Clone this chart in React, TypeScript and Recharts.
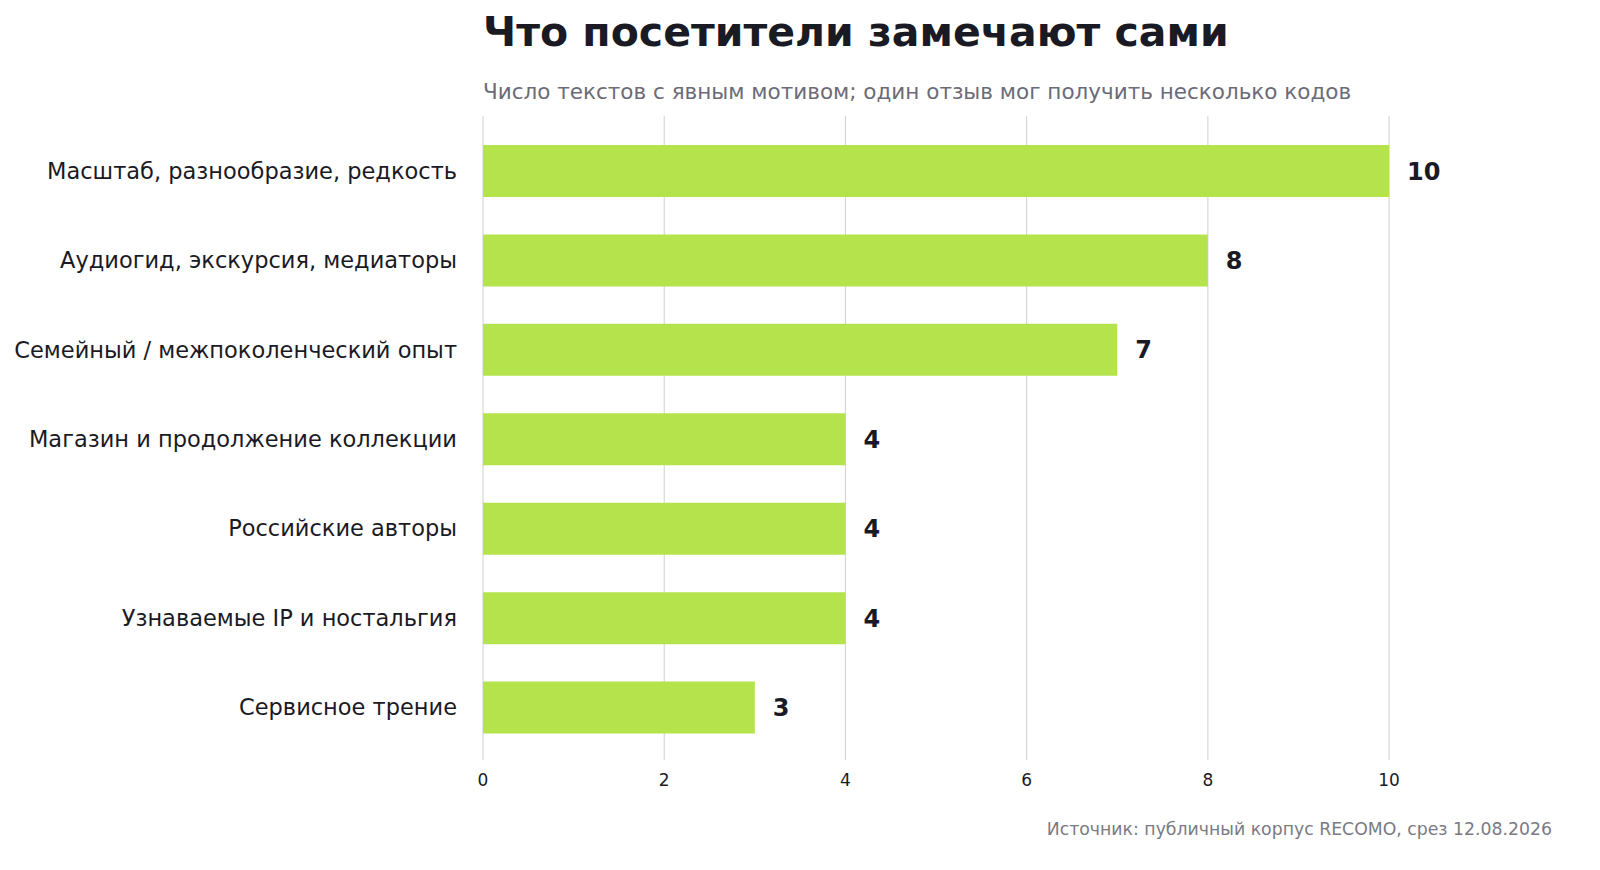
import { BarChart, Bar, XAxis, YAxis, CartesianGrid, LabelList } from 'recharts';

const categories = [
  'Масштаб, разнообразие, редкость',
  'Аудиогид, экскурсия, медиаторы',
  'Семейный / межпоколенческий опыт',
  'Магазин и продолжение коллекции',
  'Российские авторы',
  'Узнаваемые IP и ностальгия',
  'Сервисное трение',
];
const counts = [10, 8, 7, 4, 4, 4, 3];
const xTicks = [0, 2, 4, 6, 8, 10];

const data = categories.map((name, i) => ({ name, value: counts[i] }));
const font = '"DejaVu Sans", sans-serif';

const App = () => (
  <div style={{ position: 'absolute', left: 0, top: 0, width: 1600, height: 870, background: '#fff', fontFamily: font }}>
    <div style={{ position: 'absolute', left: 483, top: 8, fontSize: 41, fontWeight: 'bold', color: '#1a1a24' }}>
      Что посетители замечают сами
    </div>
    <div style={{ position: 'absolute', left: 483, top: 79, fontSize: 21.5, color: '#6b6b78' }}>
      Число текстов с явным мотивом; один отзыв мог получить несколько кодов
    </div>
    <div style={{ position: 'absolute', right: 48, top: 819, fontSize: 17.3, color: '#7a7a84' }}>
      Источник: публичный корпус RECOMO, срез 12.08.2026
    </div>
    <BarChart
      width={1600}
      height={870}
      data={data}
      layout="vertical"
      margin={{ top: 116, right: 75, bottom: 70, left: 0 }}
      style={{ fontFamily: font }}
    >
      <CartesianGrid horizontal={false} stroke="#d0d0d0" verticalValues={xTicks} />
      <XAxis
        type="number"
        domain={[0, 11.5]}
        ticks={xTicks}
        axisLine={false}
        tickLine={false}
        tick={{ fontSize: 17, fill: '#1a1a24' }}
        tickMargin={8}
        height={40}
      />
      <YAxis
        type="category"
        dataKey="name"
        width={483}
        axisLine={false}
        tickLine={false}
        tick={{ fontSize: 22.5, fill: '#1a1a24' }}
        tickMargin={20}
        padding={{ top: 10, bottom: 8 }}
      />
      <Bar dataKey="value" fill="#b5e34b" barSize={52} isAnimationActive={false}>
        <LabelList dataKey="value" position="right" offset={18} style={{ fontSize: 24, fontWeight: 'bold', fill: '#1a1a24' }} />
      </Bar>
    </BarChart>
  </div>
);

export default App;
